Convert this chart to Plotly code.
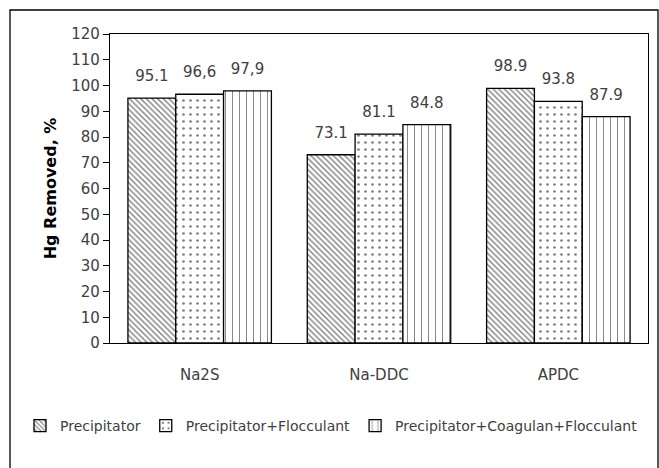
import plotly.graph_objects as go

categories = ["Na2S", "Na-DDC", "APDC"]
series_names = ["Precipitator", "Precipitator+Flocculant", "Precipitator+Coagulan+Flocculant"]
precipitator = [95.1, 73.1, 98.9]
flocculant = [96.6, 81.1, 93.8]
coag_floc = [97.9, 84.8, 87.9]
label_precipitator = ["95.1", "73.1", "98.9"]
label_flocculant = ["96,6", "81.1", "93.8"]
label_coag_floc = ["97,9", "84.8", "87.9"]
y_ticks = list(range(0, 121, 10))

FONT = "DejaVu Sans"
GREY = "#404040"

W, H = 659, 468
L, R, T, B = 110, 11, 34, 125
pw, ph = W - L - R, H - T - B
YMAX = 120
label_lift = 10 * YMAX / ph  # value units equal to 10 px, to lift data labels

series = [
    (series_names[0], precipitator, label_precipitator, dict(shape="\\", size=4, solidity=0.35)),
    (series_names[1], flocculant, label_flocculant, dict(shape=".", size=7, solidity=0.12)),
    (series_names[2], coag_floc, label_coag_floc, dict(shape="|", size=7, solidity=0.13)),
]

fig = go.Figure()
for name, vals, labels, pat in series:
    fig.add_trace(go.Bar(
        name=name, x=categories, y=vals,
        marker=dict(color="white", line=dict(color="black", width=1.3),
                    pattern=dict(fgcolor="black", bgcolor="white", fillmode="overlay", **pat)),
    ))
# transparent twin bars on an overlaid axis carrying the value labels a bit higher
for name, vals, labels, pat in series:
    fig.add_trace(go.Bar(
        name=name, x=categories, y=vals, yaxis="y2", showlegend=False, hoverinfo="skip",
        text=labels, textposition="outside", cliponaxis=False,
        textfont=dict(family=FONT, size=15, color=GREY),
        marker=dict(color="rgba(0,0,0,0)", line=dict(width=0)),
    ))

fig.update_layout(
    width=W, height=H,
    margin=dict(l=L, r=R, t=T, b=B, autoexpand=False),
    paper_bgcolor="white", plot_bgcolor="white",
    barmode="group", bargap=0.2, bargroupgap=0,
    font=dict(family=FONT, size=15, color=GREY),
    showlegend=True,
    legend=dict(orientation="h", x=(20 - L) / pw, xanchor="left", y=(H - B - 410) / ph, yanchor="top",
                font=dict(family=FONT, size=14, color=GREY), itemwidth=30,
                bgcolor="rgba(0,0,0,0)", traceorder="normal"),
    xaxis=dict(showline=True, linecolor="black", linewidth=1.3, mirror=True,
               ticks="", ticklabelstandoff=18, tickfont=dict(family=FONT, size=15, color=GREY)),
    yaxis=dict(range=[0, YMAX], tickvals=y_ticks, showline=True, linecolor="black",
               linewidth=1.3, mirror=True, ticks="outside", ticklen=6, tickcolor="black",
               showgrid=False, zeroline=False,
               tickfont=dict(family=FONT, size=15, color=GREY),
               title=dict(text="<b>Hg Removed, %</b>", font=dict(family=FONT, size=16, color="black"),
                          standoff=10)),
    yaxis2=dict(overlaying="y", range=[-label_lift, YMAX - label_lift], visible=False),
    shapes=[dict(type="rect", xref="paper", yref="paper",
                 x0=(10 - L) / pw, x1=(658 - L) / pw,
                 y0=(H - B - 475) / ph, y1=(H - B - 10) / ph,
                 line=dict(color="black", width=1.3), fillcolor="rgba(0,0,0,0)", layer="below")],
)

fig.write_html("out.html")
